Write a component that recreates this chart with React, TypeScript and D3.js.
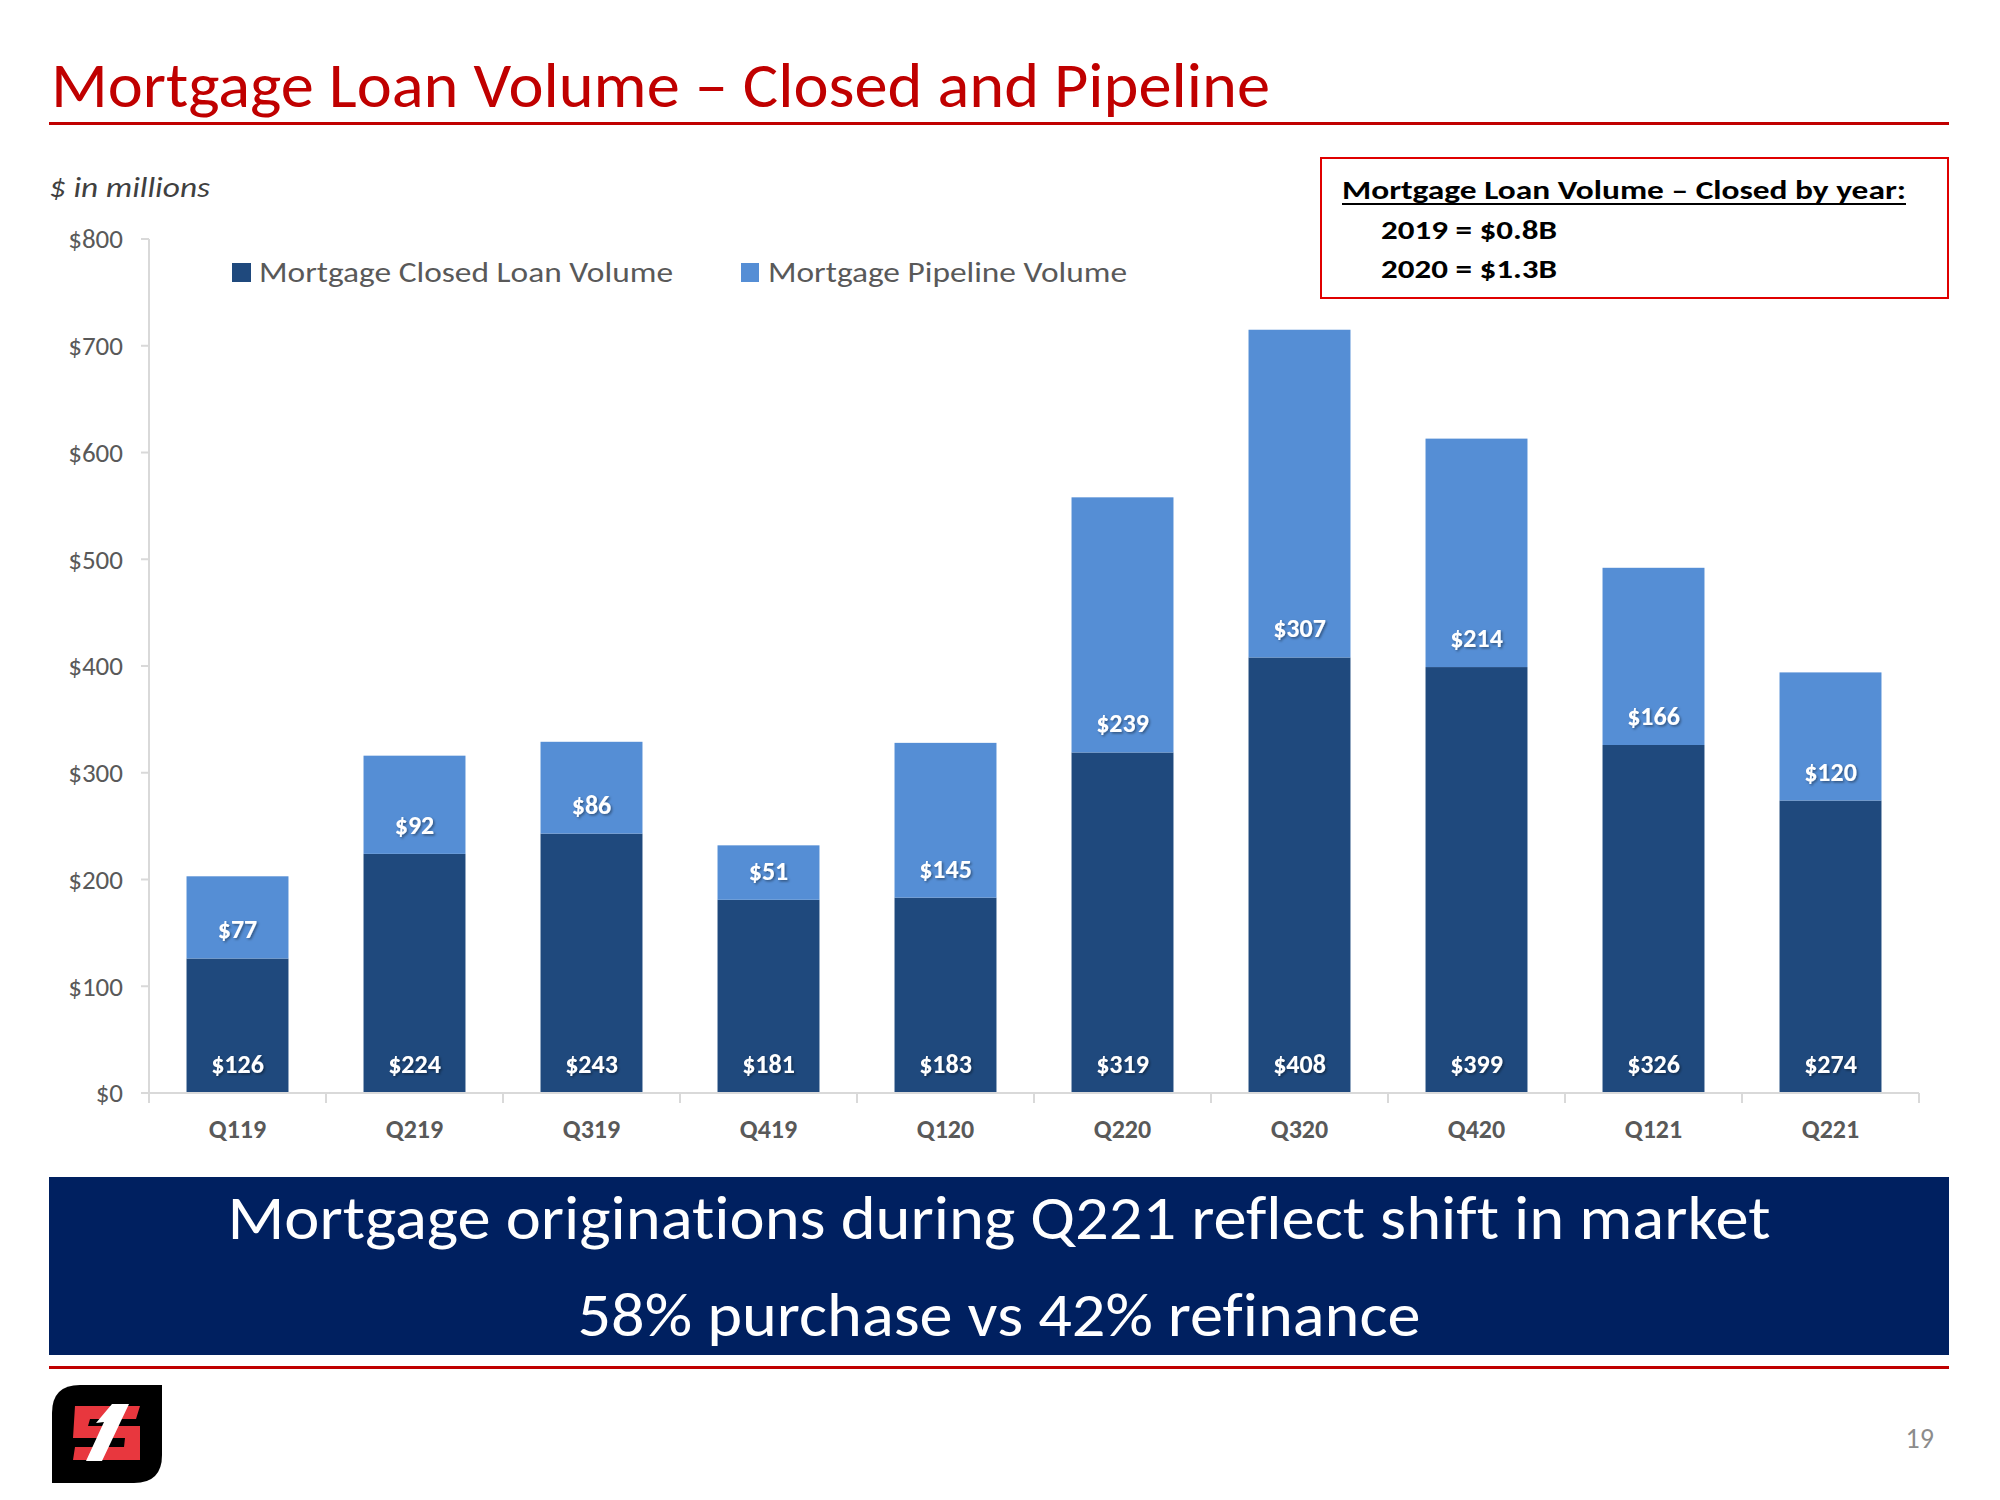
import React from "react";
import * as d3 from "d3";

const categories = ["Q119", "Q219", "Q319", "Q419", "Q120", "Q220", "Q320", "Q420", "Q121", "Q221"];
const closedValues = [126, 224, 243, 181, 183, 319, 408, 399, 326, 274];
const pipelineValues = [77, 92, 86, 51, 145, 239, 307, 214, 166, 120];
const yTicks = [0, 100, 200, 300, 400, 500, 600, 700, 800];
const seriesNames = ["Mortgage Closed Loan Volume", "Mortgage Pipeline Volume"];
const seriesColors = ["#1F497D", "#558ED5"];
const titleText = "Mortgage Loan Volume \u2013 Closed and Pipeline";
const unitText = "$ in millions";
const boxHeader = "Mortgage Loan Volume \u2013 Closed by year:";
const boxLines = ["2019 = $0.8B", "2020 = $1.3B"];
const bannerLines = ["Mortgage originations during Q221 reflect shift in market", "58% purchase vs 42% refinance"];
const pageNumber = "19";

const FONT = "Carlito, Calibri, Lato, sans-serif";
const noLig: React.CSSProperties = { fontVariantLigatures: "none", fontFeatureSettings: '"liga" 0, "clig" 0, "dlig" 0' };

export default function App() {
  const x = d3.scaleBand<string>().domain(categories).range([149, 1919]).paddingInner(0.424).paddingOuter(0.212);
  const y = d3.scaleLinear().domain([0, 800]).range([1093, 239]);
  const rows = categories.map((c, i) => ({ cat: c, closed: closedValues[i], pipeline: pipelineValues[i] }));
  const stacked = d3.stack<any>().keys(["closed", "pipeline"])(rows);
  const bw = x.bandwidth();
  const step = x.step();
  const fmt = (v: number) => "$" + d3.format(",")(v);

  return (
    <svg width={2000} height={1500} style={{ position: "absolute", left: 0, top: 0, background: "#fff", ...noLig }} fontFamily={FONT}>
      <defs>
        <filter id="shadow" x="-20%" y="-20%" width="140%" height="160%">
          <feDropShadow dx="1.5" dy="1.5" stdDeviation="1" floodColor="#000" floodOpacity="0.4" />
        </filter>
      </defs>
      <rect width={2000} height={1500} fill="#fff" />

      {/* Title */}
      <text x={51} y={107} fontSize={63} fill="#C00000" textLength={1219} lengthAdjust="spacingAndGlyphs">{titleText}</text>
      <rect x={49} y={122} width={1900} height={3} fill="#C00000" />

      {/* unit */}
      <text x={49} y={197} fontSize={29} fontStyle="italic" fill="#404040" textLength={161} lengthAdjust="spacingAndGlyphs">{unitText}</text>

      {/* Info box */}
      <rect x={1321} y={158} width={627} height={140} fill="#fff" stroke="#E00000" strokeWidth={2} />
      <text x={1342} y={199} fontSize={27} fontWeight="bold" fill="#000" textLength={564} lengthAdjust="spacingAndGlyphs">{boxHeader}</text>
      <rect x={1342} y={203} width={564} height={2} fill="#000" />
      {boxLines.map((t, i) => (
        <text key={t} x={1381} y={239 + i * 39} fontSize={27} fontWeight="bold" fill="#000" textLength={176} lengthAdjust="spacingAndGlyphs">{t}</text>
      ))}

      {/* Y axis */}
      <line x1={149} x2={149} y1={y(800)} y2={y(0)} stroke="#D9D9D9" strokeWidth={2} />
      {yTicks.map((t) => (
        <g key={t}>
          <line x1={141} x2={149} y1={y(t)} y2={y(t)} stroke="#D9D9D9" strokeWidth={2} />
          <text x={123} y={y(t)} dy="0.35em" textAnchor="end" fontSize={27} fill="#595959">{fmt(t)}</text>
        </g>
      ))}

      {/* Bars */}
      {stacked.map((s, si) => (
        <g key={s.key}>
          {s.map((d, i) => (
            <rect key={i} x={x(categories[i])} y={y(d[1])} width={bw} height={y(d[0]) - y(d[1])} fill={seriesColors[si]} />
          ))}
        </g>
      ))}
      {stacked.map((s, si) => (
        <g key={"l" + s.key}>
          {s.map((d, i) => (
            <text key={i} x={(x(categories[i]) as number) + bw / 2} y={y(d[0]) - 20} textAnchor="middle" fontSize={26} fontWeight="bold" fill="#fff" filter="url(#shadow)">
              {fmt(d[1] - d[0])}
            </text>
          ))}
        </g>
      ))}

      {/* X axis */}
      <line x1={149} x2={1919} y1={y(0)} y2={y(0)} stroke="#D9D9D9" strokeWidth={2} />
      {d3.range(categories.length + 1).map((i) => (
        <line key={i} x1={149 + i * step} x2={149 + i * step} y1={y(0)} y2={y(0) + 10} stroke="#D9D9D9" strokeWidth={2} />
      ))}
      {categories.map((c) => (
        <text key={c} x={(x(c) as number) + bw / 2} y={1138} textAnchor="middle" fontSize={26} fontWeight="bold" fill="#595959">{c}</text>
      ))}

      {/* Legend */}
      <rect x={232} y={263} width={19} height={19} fill={seriesColors[0]} />
      <text x={259} y={282} fontSize={28} fill="#595959" textLength={414} lengthAdjust="spacingAndGlyphs">{seriesNames[0]}</text>
      <rect x={741} y={263} width={18} height={19} fill={seriesColors[1]} />
      <text x={768} y={282} fontSize={28} fill="#595959" textLength={359} lengthAdjust="spacingAndGlyphs">{seriesNames[1]}</text>

      {/* Banner */}
      <rect x={49} y={1177} width={1900} height={178} fill="#002060" />
      <text x={999} y={1239} textAnchor="middle" fontSize={61} fill="#fff" style={noLig} textLength={1543} lengthAdjust="spacingAndGlyphs">{bannerLines[0]}</text>
      <text x={999} y={1336} textAnchor="middle" fontSize={61} fill="#fff" style={noLig} textLength={843} lengthAdjust="spacingAndGlyphs">{bannerLines[1]}</text>
      <rect x={49} y={1366} width={1900} height={3} fill="#C00000" />

      {/* Logo */}
      <path d="M 80 1385 L 162 1385 L 162 1455 Q 162 1483 134 1483 L 52 1483 L 52 1413 Q 52 1385 80 1385 Z" fill="#000" />
      <path d="M 75 1406 L 140 1406 L 136 1419 L 90 1419 L 88 1426 L 140 1426 L 140 1460 L 73 1460 L 75 1447 L 124 1447 L 125 1438 L 73 1438 Z" fill="#E8373E" />
      <path d="M 112 1404 L 129 1404 L 102 1461 L 86 1461 L 104 1422 L 96 1423 Z" fill="#fff" />

      {/* Page number */}
      <text x={1934} y={1448} textAnchor="end" fontSize={28} fill="#8C8C8C">{pageNumber}</text>
    </svg>
  );
}
